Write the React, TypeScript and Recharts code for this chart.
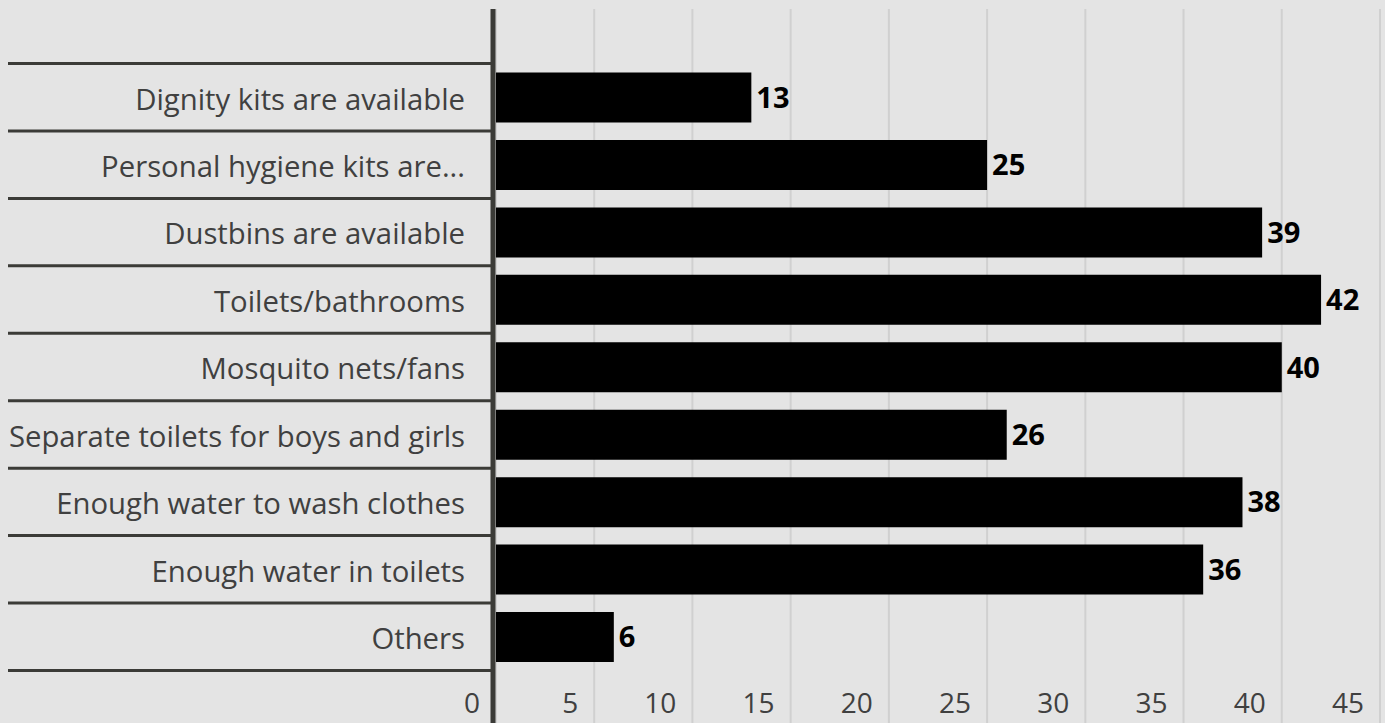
import React from "react";
import { BarChart, Bar, XAxis, YAxis, CartesianGrid, LabelList } from "recharts";

const categories = [
  "Dignity kits are available",
  "Personal hygiene kits are...",
  "Dustbins are available",
  "Toilets/bathrooms",
  "Mosquito nets/fans",
  "Separate toilets for boys and girls",
  "Enough water to wash clothes",
  "Enough water in toilets",
  "Others",
];
const values = [13, 25, 39, 42, 40, 26, 38, 36, 6];
const xTicks = [0, 5, 10, 15, 20, 25, 30, 35, 40, 45];

const data = categories.map((name, i) => ({ name, value: values[i] }));

const FONT = "'Open Sans', sans-serif";
const TEXT = "#404040";
const DARK = "#3b3b37";

const CategoryTick = (props: any) => {
  const { y, payload, index } = props;
  const half = payload && payload.offset ? payload.offset : 33.7;
  return (
    <g>
      <line x1={8} x2={491} y1={y - half} y2={y - half} stroke={DARK} strokeWidth={3} />
      {index === categories.length - 1 && (
        <line x1={8} x2={491} y1={y + half} y2={y + half} stroke={DARK} strokeWidth={3} />
      )}
      <text x={465} y={y} dy="0.42em" textAnchor="end" fill={TEXT} fontSize={29.3} fontFamily={FONT}>
        {payload.value}
      </text>
    </g>
  );
};

const ValueTick = (props: any) => {
  const { x, payload } = props;
  return (
    <text x={x - 16} y={713} textAnchor="end" fill={TEXT} fontSize={28} fontFamily={FONT}>
      {payload.value}
    </text>
  );
};

export default function App() {
  return (
    <div style={{ position: "absolute", left: 0, top: 0, width: 1385, height: 723, background: "#e4e4e4", overflow: "hidden" }}>
      <BarChart
        width={1385}
        height={723}
        data={data}
        layout="vertical"
        margin={{ top: 9, right: 5, bottom: -30, left: 8 }}
      >
        <CartesianGrid horizontal={false} stroke="#d0d0d0" strokeWidth={2} />
        <XAxis
          type="number"
          domain={[-0.15, 45]}
          allowDataOverflow
          ticks={xTicks}
          interval={0}
          height={30}
          axisLine={false}
          tickLine={false}
          tick={<ValueTick />}
        />
        <YAxis
          type="category"
          dataKey="name"
          width={485}
          padding={{ top: 54.5, bottom: 52.5 }}
          axisLine={{ stroke: DARK, strokeWidth: 5 }}
          tickLine={false}
          interval={0}
          tick={<CategoryTick />}
        />
        <Bar dataKey="value" fill="#000000" barSize={50} isAnimationActive={false}>
          <LabelList
            dataKey="value"
            position="right"
            offset={5}
            fill="#000000"
            fontSize={29}
            fontWeight="bold"
            fontFamily={FONT}
          />
        </Bar>
      </BarChart>
    </div>
  );
}
